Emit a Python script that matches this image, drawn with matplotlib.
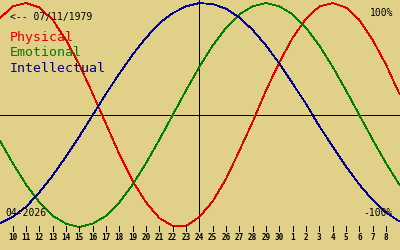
import matplotlib
matplotlib.use("Agg")
import matplotlib.pyplot as plt
import numpy as np

BG = "#E0D088"
RED = "#E00000"
GREEN = "#008000"
BLUE = "#000090"

# day index -1 .. 29 (9 Apr .. 9 May); only 10 Apr .. 8 May get a tick
day_index = list(range(-1, 30))
day_labels = [str(d) for d in range(10, 31)] + [str(d) for d in range(1, 9)]

physical = [0.86, 0.97, 1.00, 0.96, 0.85, 0.67, 0.45, 0.19, -0.08, -0.35, -0.59,
            -0.78, -0.92, -0.99, -0.99, -0.91, -0.77, -0.57, -0.32, -0.06, 0.22,
            0.47, 0.69, 0.86, 0.97, 1.00, 0.96, 0.85, 0.67, 0.45, 0.19]
emotional = [-0.22, -0.43, -0.62, -0.78, -0.90, -0.97, -1.00, -0.97, -0.90, -0.78,
             -0.62, -0.43, -0.22, 0.00, 0.22, 0.43, 0.62, 0.78, 0.90, 0.97, 1.00,
             0.97, 0.90, 0.78, 0.62, 0.43, 0.22, 0.00, -0.22, -0.43, -0.62]
intellectual = [-0.97, -0.91, -0.82, -0.69, -0.54, -0.37, -0.19, 0.00, 0.19, 0.37,
                0.54, 0.69, 0.82, 0.91, 0.97, 1.00, 0.99, 0.95, 0.87, 0.76, 0.62,
                0.46, 0.28, 0.10, -0.10, -0.28, -0.46, -0.62, -0.76, -0.87, -0.95]

birth_text = "<-- 07/11/1979"
month_text = "04-2026"
series_names = ["Physical", "Emotional", "Intellectual"]

MONO = "DejaVu Sans Mono"


def px(x, y):
    return x / 400, 1 - y / 250


fig = plt.figure(figsize=(4, 2.5), dpi=100)
fig.patch.set_facecolor(BG)
ax = fig.add_axes([0, 0, 1, 1])
ax.set_facecolor(BG)
ax.set_xlim(-0.953, 29.05)
ax.set_ylim(-1.205, 1.027)
ax.axis("off")

ax.axhline(0, color="black", lw=0.72, antialiased=False)
ax.plot([14, 14], [1.027, -0.98], color="black", lw=0.72, antialiased=False)

for vals, col in [(physical, RED), (emotional, GREEN), (intellectual, BLUE)]:
    ax.plot(day_index, vals, color=col, lw=0.55, antialiased=False)

ticks = np.arange(len(day_labels))
ax.vlines(ticks, -0.99, -1.036, color="black", lw=0.72, antialiased=False)
for t, lab in zip(ticks, day_labels):
    ax.text(t, -1.094, lab, ha="center", va="center", fontsize=5.5,
            family=MONO, fontweight="bold", color="black")

fig.text(*px(10, 17), birth_text, ha="left", va="center", fontsize=7, family=MONO)
for name, col, y in zip(series_names, [RED, GREEN, BLUE], [38, 53, 68]):
    fig.text(*px(10, y), name, ha="left", va="center", fontsize=9.5, family=MONO, color=col)
fig.text(*px(393, 13), "100%", ha="right", va="center", fontsize=7, family=MONO)
fig.text(*px(393, 213), "-100%", ha="right", va="center", fontsize=7, family=MONO)
fig.text(*px(5, 213), month_text, ha="left", va="center", fontsize=7, family=MONO)

fig.savefig("out.png", dpi=100, facecolor=BG)
